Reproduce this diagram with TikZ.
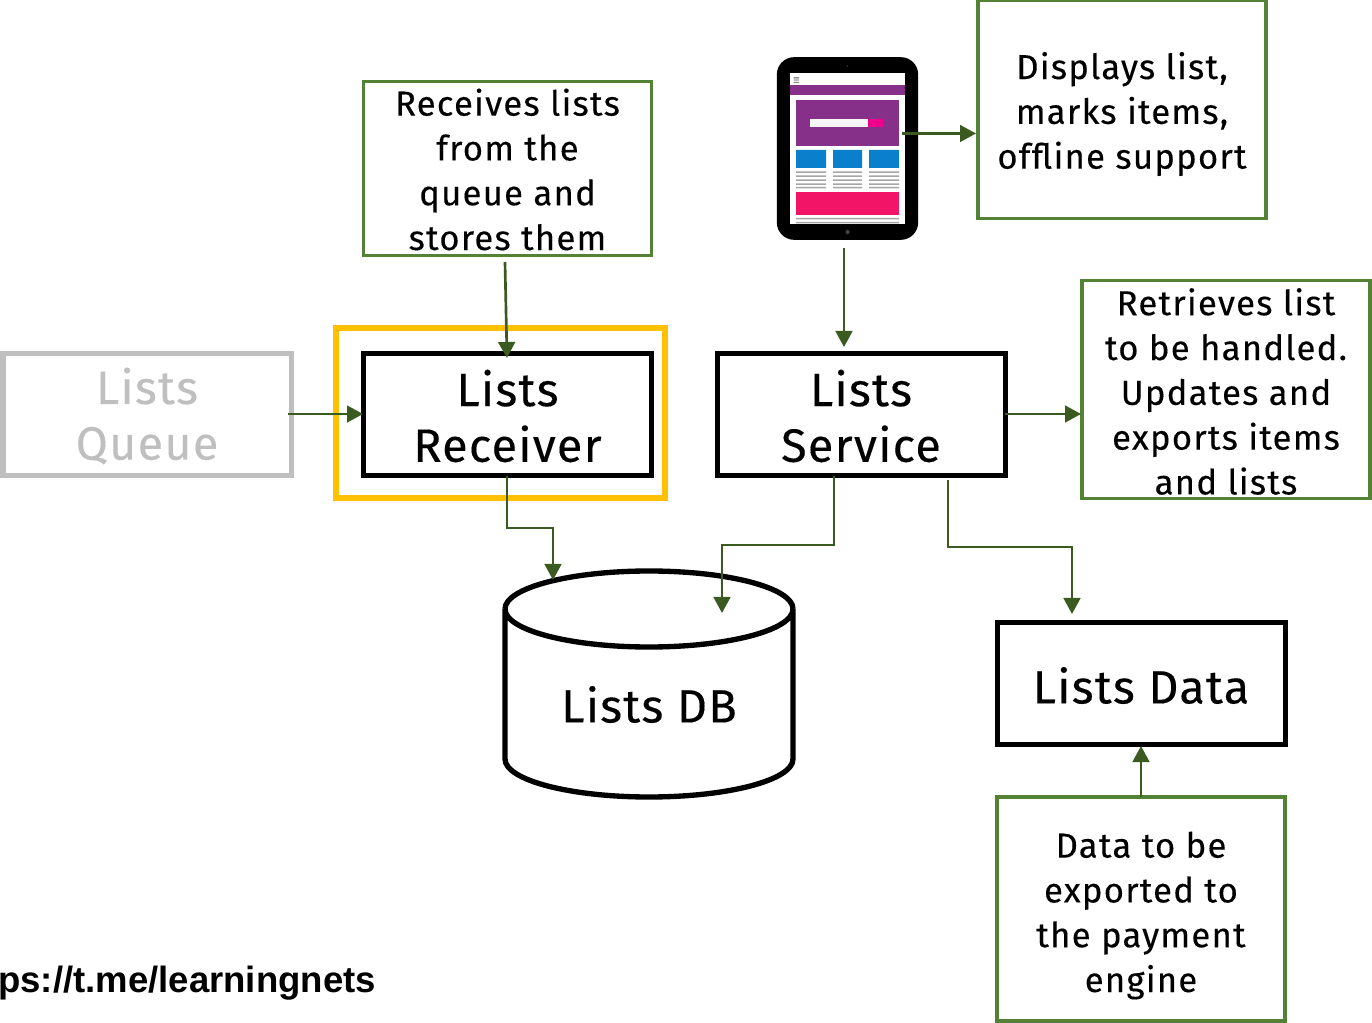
\documentclass[tikz,border=0pt]{standalone}
\usepackage{fontspec}
\setmainfont{Fira Sans}
\newfontfamily\urlfont{Liberation Sans}[Scale=1]
\newfontfamily\mainfont[LetterSpace=2.8,FakeBold=0.25]{Fira Sans}
\newfontfamily\notefont[LetterSpace=3.6,FakeBold=0.25]{Fira Sans}
\usetikzlibrary{arrows.meta}
\definecolor{boxgreen}{HTML}{548235}
\definecolor{arrowgreen}{HTML}{3A5A20}
\definecolor{hiyellow}{HTML}{FFC000}
\definecolor{mutedgray}{HTML}{BFBFBF}
\definecolor{tabpurple}{HTML}{86308A}
\definecolor{tabblue}{HTML}{0A80CC}
\definecolor{tabpink}{HTML}{F21466}
\definecolor{tabmag}{HTML}{EC008C}
\definecolor{tabline}{HTML}{A6A6A6}
\tikzset{
  main/.style={draw=black,line width=3.75pt,minimum width=216pt,minimum height=92pt,inner sep=0pt,align=center,font=\mainfont\fontsize{35}{42.75}\selectfont},
  muted/.style={main,draw=mutedgray,text=mutedgray},
  note/.style={draw=boxgreen,line width=2.4pt,inner sep=0pt,align=center,font=\notefont\fontsize{26}{33.6}\selectfont,text=black},
  conn/.style={draw=arrowgreen,line width=2pt,-{Triangle[length=12pt,width=12.5pt]}},
  lbl/.style={inner sep=0pt,align=center,font=\notefont\fontsize{26}{33.6}\selectfont}
}
\begin{document}
\begin{tikzpicture}[x=0.75pt,y=-0.75pt]
\useasboundingbox (0,0) rectangle (1372,1023);
% highlight
\node[draw=hiyellow,line width=4.6pt,minimum width=246.5pt,minimum height=127.5pt,inner sep=0pt] (hi) at (500.5,413) {};
% boxes
\node[muted] (queue) at (147,414.5) {};
\node[inner sep=0pt,align=center,text=mutedgray,font=\mainfont\fontsize{35}{42.75}\selectfont] (queuet) at (147,416) {Lists\\[-1pt]Queue};
\node[main] (receiver) at (507.5,414.5) {};
\node[inner sep=0pt,align=center,font=\mainfont\fontsize{35}{42.75}\selectfont] (receivert) at (507.5,416) {Lists\\[-1pt]Receiver};
\node[main] (service) at (861,414.5) {};
\node[inner sep=0pt,align=center,font=\mainfont\fontsize{35}{42.75}\selectfont] (servicet) at (861,416) {Lists\\[-1pt]Service};
\node[main] (data) at (1141,683.5) {};
\node[inner sep=0pt,font=\mainfont\fontsize{35}{42.75}\selectfont] (datatext) at (1141,685.5) {Lists Data};
% notes
\node[note,minimum width=216.5pt,minimum height=131pt] (n1) at (507.5,168.5) {};
\node[lbl] (n1t) at (507.5,169.5) {Receives lists\\from the\\queue and\\stores them};
\node[note,minimum width=216pt,minimum height=163pt] (n2) at (1122,109.5) {};
\node[lbl] (n2t) at (1122,114) {Displays list,\\marks items,\\offline support};
\node[note,minimum width=216pt,minimum height=163pt] (n3) at (1226,389.5) {};
\node[lbl] (n3t) at (1226,391.5) {Retrieves list\\to be handled.\\Updates and\\exports items\\and lists};
\node[note,minimum width=216pt,minimum height=168pt] (n4) at (1141,909) {};
\node[lbl] (n4t) at (1141,915.5) {Data to be\\exported to\\the payment\\engine};
% cylinder
\draw[line width=4pt,fill=white] (505,609) arc[start angle=180,end angle=0,x radius=144,y radius=38] -- (793,759) arc[start angle=0,end angle=180,x radius=144,y radius=38] -- cycle;
\draw[line width=4pt] (505,609) arc[start angle=180,end angle=360,x radius=144,y radius=38];
\node[inner sep=0pt,font=\mainfont\fontsize{35}{42.75}\selectfont] (db) at (649,704.5) {Lists DB};
% tablet
\node[fill=black,rounded corners=13pt,minimum width=106pt,minimum height=137pt,inner sep=0pt] (tablet) at (847.5,148.5) {};
\fill[white] (790,73) rectangle (905,224);
\fill[black!70] (793.5,77.5) rectangle (799,78.3) (793.5,79.7) rectangle (799,80.5) (793.5,81.9) rectangle (799,82.7);
\fill[tabpurple] (790,85) rectangle (905,95);
\fill[tabpurple] (796,100) rectangle (899,146);
\fill[white!96!black] (810,119.5) rectangle (868,127.5);
\fill[tabmag] (868,119.5) rectangle (884,127.5);
\fill[tabblue] (796,150) rectangle (826,168) (833,150) rectangle (862,168) (869,150) rectangle (899,168);
\foreach \yy in {171.5,175.5,179.5,183.5,187}{
  \fill[tabline] (796,\yy) rectangle (826,\yy+1.5) (833,\yy) rectangle (862,\yy+1.5) (869,\yy) rectangle (899,\yy+1.5);
}
\fill[tabpink] (796,192) rectangle (899,215);
\fill[tabline] (796,218) rectangle (899,219.5) (796,222) rectangle (899,223.5);
\fill[black!80] (847.5,66) circle (0.8);
\fill[black!75] (847.5,232) circle (2.2);
% url
\node[anchor=base west,inner sep=0pt,font=\urlfont\bfseries\fontsize{27.4}{32}\selectfont] (url) at (-2,992) {ps://t.me/learningnets};
% connector free ends
\coordinate (tabR) at (902,133.5);
\coordinate (n2L) at (976,133.5);
\coordinate (tabB) at (844,248);
\coordinate (serT) at (844,347);
\coordinate (n1B) at (505,262);
\coordinate (recT) at (507,358);
\coordinate (queR) at (288,414);
\coordinate (recL) at (363,414);
\coordinate (serR) at (1005,414);
\coordinate (n3L) at (1081,414);
\coordinate (recB) at (507,476);
\coordinate (dbA) at (553,580);
\coordinate (serB1) at (834,476);
\coordinate (dbB) at (722,613);
\coordinate (serB2) at (948,480);
\coordinate (datT) at (1072,614);
\coordinate (n4T) at (1141,797);
\coordinate (datB) at (1141,746);
% connectors
\draw[conn] (tabR) -- (n2L);
\draw[conn] (tabB) -- (serT);
\draw[conn] (n1B) -- (recT);
\draw[conn] (queR) -- (recL);
\draw[conn] (serR) -- (n3L);
\draw[conn] (recB) |- (530,528) -| (dbA);
\draw[conn] (serB1) |- (778,545) -| (dbB);
\draw[conn] (serB2) |- (1010,547) -| (datT);
\draw[conn] (n4T) -- (datB);
\end{tikzpicture}
\end{document}
